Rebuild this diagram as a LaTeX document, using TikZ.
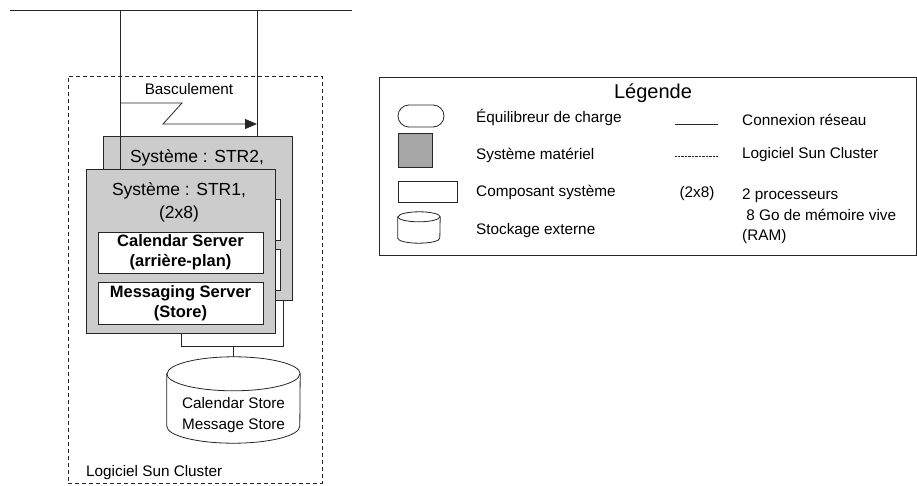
\documentclass[tikz,border=0pt]{standalone}
\usepackage{fontspec}
\setmainfont{Liberation Sans}
\usetikzlibrary{positioning}
\usetikzlibrary{shapes.geometric, arrows.meta}
\definecolor{linegray}{gray}{0.15}
\definecolor{boxgray}{gray}{0.8}
\definecolor{keygray}{gray}{0.65}
\tikzstyle{net} = [draw=linegray, line width=0.8pt]
\tikzstyle{system} = [rectangle, minimum width=189pt, minimum height=164pt, draw=linegray, fill=boxgray, line width=0.8pt]
\tikzstyle{component} = [rectangle, minimum width=165pt, minimum height=41pt, inner sep=0pt, draw=linegray, fill=white, line width=0.8pt, align=center, font=\bfseries\fontsize{16.5}{20}\selectfont]
\tikzstyle{systitle} = [align=center, inner sep=0pt, font=\fontsize{17.5}{23}\selectfont]
\tikzstyle{legtext} = [anchor=west, align=left, inner sep=0pt, font=\fontsize{15.3}{20.5}\selectfont]
\tikzstyle{storage} = [rectangle, inner sep=0pt]
\tikzstyle{frame} = [rectangle, draw=linegray, line width=0.8pt]
\tikzstyle{arrow} = [line width=0.8pt, draw=linegray, -{Triangle[length=12pt,width=10pt]}]

\begin{document}
\begin{tikzpicture}[x=1pt, y=-1pt]
        \useasboundingbox (0,0) rectangle (917,486);
        % reseau
        \coordinate (bus west) at (10,10);
        \coordinate (bus east) at (352,10);
        \coordinate (tap1) at (120,10);
        \coordinate (tap2) at (257,10);
        \draw [net] (bus west) -- (bus east);

        % cluster
        \node (cluster) [frame, dashed, dash pattern=on 4pt off 3pt, minimum width=254pt, minimum height=407pt] at (195,279.5) {};
        \node (clusterlbl) [legtext] at (86,473) {Logiciel Sun Cluster};

        % second noeud
        \node (str2) [system] at (198,218) {};
        \node (cal2) [component] at (197.5,219.5) {};
        \node (msg2) [component] at (197.5,270) {};
        \node (str2lbl) [systitle] at (197,158) {Système : STR2,};
        \draw [net] (tap2) -- (tap2 |- str2.north);
        \draw [net] (tap1) -- (tap1 |- 0,169);

        % premier noeud
        \node (str1) [system] at (180.5,251) {};
        \node (str1lbl) [systitle] at (179,202.5) {Système : STR1,\\(2x8)};
        \node (cal1) [component] at (180.5,252.5) {Calendar Server\\(arrière-plan)};
        \node (msg1) [component, minimum height=42pt] at (180.5,303) {Messaging Server\\(Store)};

        % basculement
        \node (swlbl) [systitle, font=\fontsize{15.3}{18}\selectfont] at (189,89) {Basculement};
        \draw [arrow] (120,103) -- (182,103) -- (163,124) -- (tap2 |- 0,124);

        % stockage
        \node (store) [storage, minimum width=133pt, minimum height=86pt] at (233.5,400) {};
        \draw [net, fill=white] ([yshift=-17pt]store.north west) -- ([yshift=17pt]store.south west)
            arc[start angle=180, end angle=360, x radius=66.5pt, y radius=17pt]
            -- ([yshift=-17pt]store.north east)
            arc[start angle=0, end angle=180, x radius=66.5pt, y radius=17pt] -- cycle;
        \draw [net] ([yshift=-17pt]store.north west) arc[start angle=180, end angle=360, x radius=66.5pt, y radius=17pt];
        \node (storelbl) [legtext, anchor=center, align=center] at (233.5,415) {Calendar Store\\Message Store};
        \coordinate (b1) at (181,346);
        \coordinate (b2) at (283,346);
        \draw [net] (b1 |- str1.south) -- (b1) -- (b2) -- (b2 |- str2.south);
        \draw [net] (store.north |- b1) -- (store.north);

        % legende
        \node (legend) [frame, minimum width=537pt, minimum height=178pt] at (647.5,166) {};
        \node (legtitle) [systitle, font=\fontsize{20}{24}\selectfont] at (653,93) {Légende};
        \node (keylb) [frame, rounded corners=11pt, minimum width=46pt, minimum height=22pt] at (421,116) {};
        \node (keysys) [frame, fill=keygray, minimum width=34pt, minimum height=34pt] at (415,150) {};
        \node (keycomp) [frame, minimum width=59pt, minimum height=21pt] at (427.5,191.5) {};
        \node (keystore) [storage, minimum width=42pt, minimum height=31pt] at (419,227.5) {};
        \draw [net, fill=white] ([yshift=-5pt]keystore.north west) -- ([yshift=5pt]keystore.south west)
            arc[start angle=180, end angle=360, x radius=21pt, y radius=5pt]
            -- ([yshift=-5pt]keystore.north east)
            arc[start angle=0, end angle=180, x radius=21pt, y radius=5pt] -- cycle;
        \draw [net] ([yshift=-5pt]keystore.north west) arc[start angle=180, end angle=360, x radius=21pt, y radius=5pt];
        \node (lblb) [legtext] at (476,117) {Équilibreur de charge};
        \node (lbsys) [legtext] at (476,155) {Système matériel};
        \node (lbcomp) [legtext] at (476,192) {Composant système};
        \node (lbstore) [legtext] at (476,231) {Stockage externe};
        \coordinate (keynet west) at (675,124);
        \coordinate (keynet east) at (718,124);
        \coordinate (keysc west) at (675,156);
        \coordinate (keysc east) at (718,156);
        \draw [net] (keynet west) -- (keynet east);
        \draw [draw=linegray, line width=0.4pt, densely dotted] (keysc west) -- (keysc east);
        \node (key2x8) [legtext, anchor=center] at (697,194) {(2x8)};
        \node (lbnet) [legtext] at (742,120) {Connexion réseau};
        \node (lbsc) [legtext] at (742,155) {Logiciel Sun Cluster};
        \node (lb2x8) [legtext, anchor=north west] at (742,189) {2 processeurs\\\ 8 Go de mémoire vive\\(RAM)};

    \end{tikzpicture}
\end{document}
